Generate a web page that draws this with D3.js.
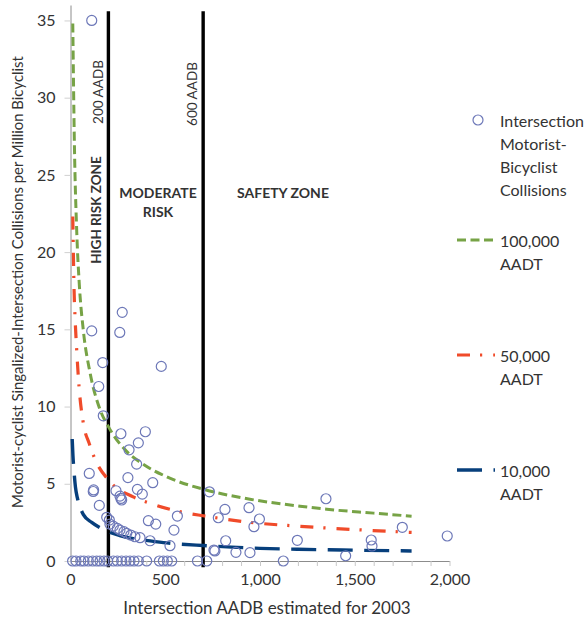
<!DOCTYPE html>
<html>
<head>
<meta charset="utf-8">
<script src="https://cdn.jsdelivr.net/npm/d3@7"></script>
<style>
  body { margin: 0; background: #fff; }
  svg text { font-family: Lato, "Open Sans", sans-serif; fill: #333; }
</style>
</head>
<body>
<svg id="chart" width="587" height="624"></svg>
<script>
const svg = d3.select("#chart");

// collisions per million bicyclists vs intersection AADB
const pointsX = [112, 273, 112, 260, 170, 479, 149, 173, 266, 395, 358, 309, 349, 99, 303, 434,
  122, 120, 240, 261, 266, 270, 353, 379, 152, 191, 205, 208, 226, 247, 261, 282, 297, 318, 340,
  367, 420, 411, 450, 564, 546, 525, 733, 780, 815, 819, 757, 762, 873, 942, 947, 968, 997, 1123,
  1197, 1348, 1452, 1587, 1591, 1751, 1988];
const pointsY = [35.0, 16.1, 14.9, 14.8, 12.85, 12.6, 11.3, 9.4, 8.24, 8.37, 7.65, 7.2, 6.27, 5.67, 5.4, 5.07,
  4.6, 4.5, 4.55, 4.2, 4.05, 3.95, 4.64, 4.33, 3.6, 2.83, 2.65, 2.39, 2.26, 2.11, 2.0, 1.9, 1.79, 1.68, 1.57,
  1.51, 1.31, 2.61, 2.39, 2.91, 2.0, 0.99, 4.48, 2.8, 3.34, 1.31, 0.71, 0.65, 0.56, 3.45, 0.54, 2.22, 2.72, 0,
  1.34, 4.03, 0.34, 1.36, 0.97, 2.18, 1.62];
// intersections with no collisions
const zeroX = [11, 29, 54, 71, 94, 117, 138, 156, 177, 196, 226, 247, 270, 293, 314, 335, 358, 402,
  469, 490, 511, 534, 670, 719];

// trend curves
const aadt100kX = [12, 20, 33, 46, 68, 103, 156, 200, 296, 367, 508, 700, 947, 1211, 1352, 1600, 1800];
const aadt100kY = [34.8, 27.4, 21.3, 18.0, 14.9, 12.2, 9.8, 8.7, 7.1, 6.4, 5.45, 4.65, 4.0, 3.55, 3.35, 3.1, 2.9];
const aadt50kX = [12, 15, 19, 25, 33, 45, 68, 99, 129, 200, 331, 428, 595, 700, 947, 1194, 1475, 1800];
const aadt50kY = [22.3, 20.0, 17.5, 15.5, 13.6, 11.3, 8.9, 7.6, 6.6, 5.25, 4.15, 3.7, 3.15, 2.93, 2.5, 2.26, 2.05, 1.85];
const aadt10kX = [9, 13, 18, 26, 36, 50, 68, 112, 156, 208, 260, 331, 420, 508, 700, 850, 1000, 1200, 1500, 1800];
const aadt10kY = [7.9, 6.8, 5.9, 4.8, 4.1, 3.5, 3.0, 2.5, 2.15, 1.85, 1.65, 1.45, 1.3, 1.17, 1.0, 0.9, 0.82, 0.76, 0.7, 0.65];

const zoneLines = [200, 700];
const yTicks = [0, 5, 10, 15, 20, 25, 30, 35];
const xTicks = d3.range(0, 2001, 100);
const xLabels = [0, 500, 1000, 1500, 2000];

const x = d3.scaleLinear().domain([0, 2000]).range([70.5, 449.5]);
const y = d3.scaleLinear().domain([0, 36]).range([561, 5]);

const axisColor = "#8c8c8c";

// y axis
const yAxis = svg.append("g")
  .attr("transform", `translate(${x(0)},0)`)
  .call(d3.axisLeft(y).tickValues(yTicks).tickSize(6).tickSizeOuter(0).tickPadding(9));
yAxis.select(".domain").attr("stroke", axisColor);
yAxis.selectAll(".tick line").attr("stroke", "#d0d0d0");
yAxis.selectAll(".tick text").attr("font-size", 16).style("fill", "#333");

// x axis
const xAxis = svg.append("g")
  .attr("transform", `translate(0,${y(0)})`)
  .call(d3.axisBottom(x).tickValues(xTicks).tickSize(5).tickSizeOuter(0)
    .tickFormat(d => xLabels.includes(d) ? d3.format(",")(d) : ""));
xAxis.select(".domain").attr("stroke", axisColor);
xAxis.selectAll(".tick line").attr("stroke", "#c8c8c8");
xAxis.selectAll(".tick text").attr("font-size", 16).attr("y", 13).style("fill", "#333");

// zone boundaries
svg.selectAll(".zone")
  .data(zoneLines)
  .join("line")
  .attr("class", "zone")
  .attr("x1", d => x(d)).attr("x2", d => x(d))
  .attr("y1", y(35.6)).attr("y2", y(-0.4))
  .attr("stroke", "#000")
  .attr("stroke-width", 3.4);

// trend curves
const curve = d3.line()
  .x(d => x(d[0]))
  .y(d => y(d[1]))
  .curve(d3.curveMonotoneX);

const series = [
  { xs: aadt100kX, ys: aadt100kY, color: "#77a346", width: 3, dash: "9,4.5" },
  { xs: aadt50kX, ys: aadt50kY, color: "#f04b2a", width: 3.2, dash: "13,10,2.2,11" },
  { xs: aadt10kX, ys: aadt10kY, color: "#073f7c", width: 3.4, dash: "25,11.5" }
];

svg.selectAll(".trend")
  .data(series)
  .join("path")
  .attr("class", "trend")
  .attr("fill", "none")
  .attr("stroke", d => d.color)
  .attr("stroke-width", d => d.width)
  .attr("stroke-dasharray", d => d.dash)
  .attr("d", d => curve(d.xs.map((v, i) => [v, d.ys[i]])));

// scatter points
const pts = pointsX.map((v, i) => [v, pointsY[i]]).concat(zeroX.map(v => [v, 0]));
svg.selectAll(".pt")
  .data(pts)
  .join("circle")
  .attr("class", "pt")
  .attr("cx", d => x(d[0]))
  .attr("cy", d => y(d[1]))
  .attr("r", 5)
  .attr("fill", "none")
  .attr("stroke", "#6d78b8")
  .attr("stroke-width", 1.2);

// zone labels
const rotLabel = (txt, cx, cy, bold) => svg.append("text")
  .attr("transform", `translate(${cx},${cy}) rotate(-90)`)
  .attr("text-anchor", "middle")
  .attr("dominant-baseline", "central")
  .attr("font-size", 13.5)
  .attr("font-weight", bold ? "bold" : "normal")
  .text(txt);
rotLabel("200 AADB", 98, 92, false);
rotLabel("600 AADB", 192, 94, false);
rotLabel("HIGH RISK ZONE", 96, 210, true);

const zoneText = [["MODERATE", 158, 192], ["RISK", 158, 211], ["SAFETY ZONE", 283, 192]];
svg.selectAll(".ztext")
  .data(zoneText)
  .join("text")
  .attr("class", "ztext")
  .attr("x", d => d[1]).attr("y", d => d[2])
  .attr("text-anchor", "middle")
  .attr("dominant-baseline", "central")
  .attr("font-size", 14)
  .attr("font-weight", "bold")
  .text(d => d[0]);

// axis titles
svg.append("text")
  .attr("x", 267).attr("y", 607)
  .attr("text-anchor", "middle")
  .attr("dominant-baseline", "central")
  .attr("font-size", 17)
  .text("Intersection AADB estimated for 2003");

svg.append("text")
  .attr("transform", "translate(17,282) rotate(-90)")
  .attr("text-anchor", "middle")
  .attr("dominant-baseline", "central")
  .attr("font-size", 14.9)
  .text("Motorist-cyclist Singalized-Intersection Collisions per Million Bicyclist");

// legend
const legend = svg.append("g").attr("class", "legend");
const legendRows = [
  { lines: ["Intersection", "Motorist-", "Bicyclist", "Collisions"], y: 120 },
  { lines: ["100,000", "AADT"], y: 240, s: series[0] },
  { lines: ["50,000", "AADT"], y: 355, s: series[1] },
  { lines: ["10,000", "AADT"], y: 470, s: series[2] }
];
legendRows.forEach(row => {
  if (row.s) {
    legend.append("line")
      .attr("x1", 457).attr("x2", 495)
      .attr("y1", row.y).attr("y2", row.y)
      .attr("stroke", row.s.color)
      .attr("stroke-width", row.s.width)
      .attr("stroke-dasharray", row.s.dash);
  } else {
    legend.append("circle")
      .attr("cx", 478).attr("cy", row.y).attr("r", 5)
      .attr("fill", "none").attr("stroke", "#6d78b8").attr("stroke-width", 1.2);
  }
  row.lines.forEach((t, i) => {
    legend.append("text")
      .attr("x", 500).attr("y", row.y + i * 23)
      .attr("dominant-baseline", "central")
      .attr("font-size", 16)
      .text(t);
  });
});
</script>
</body>
</html>
